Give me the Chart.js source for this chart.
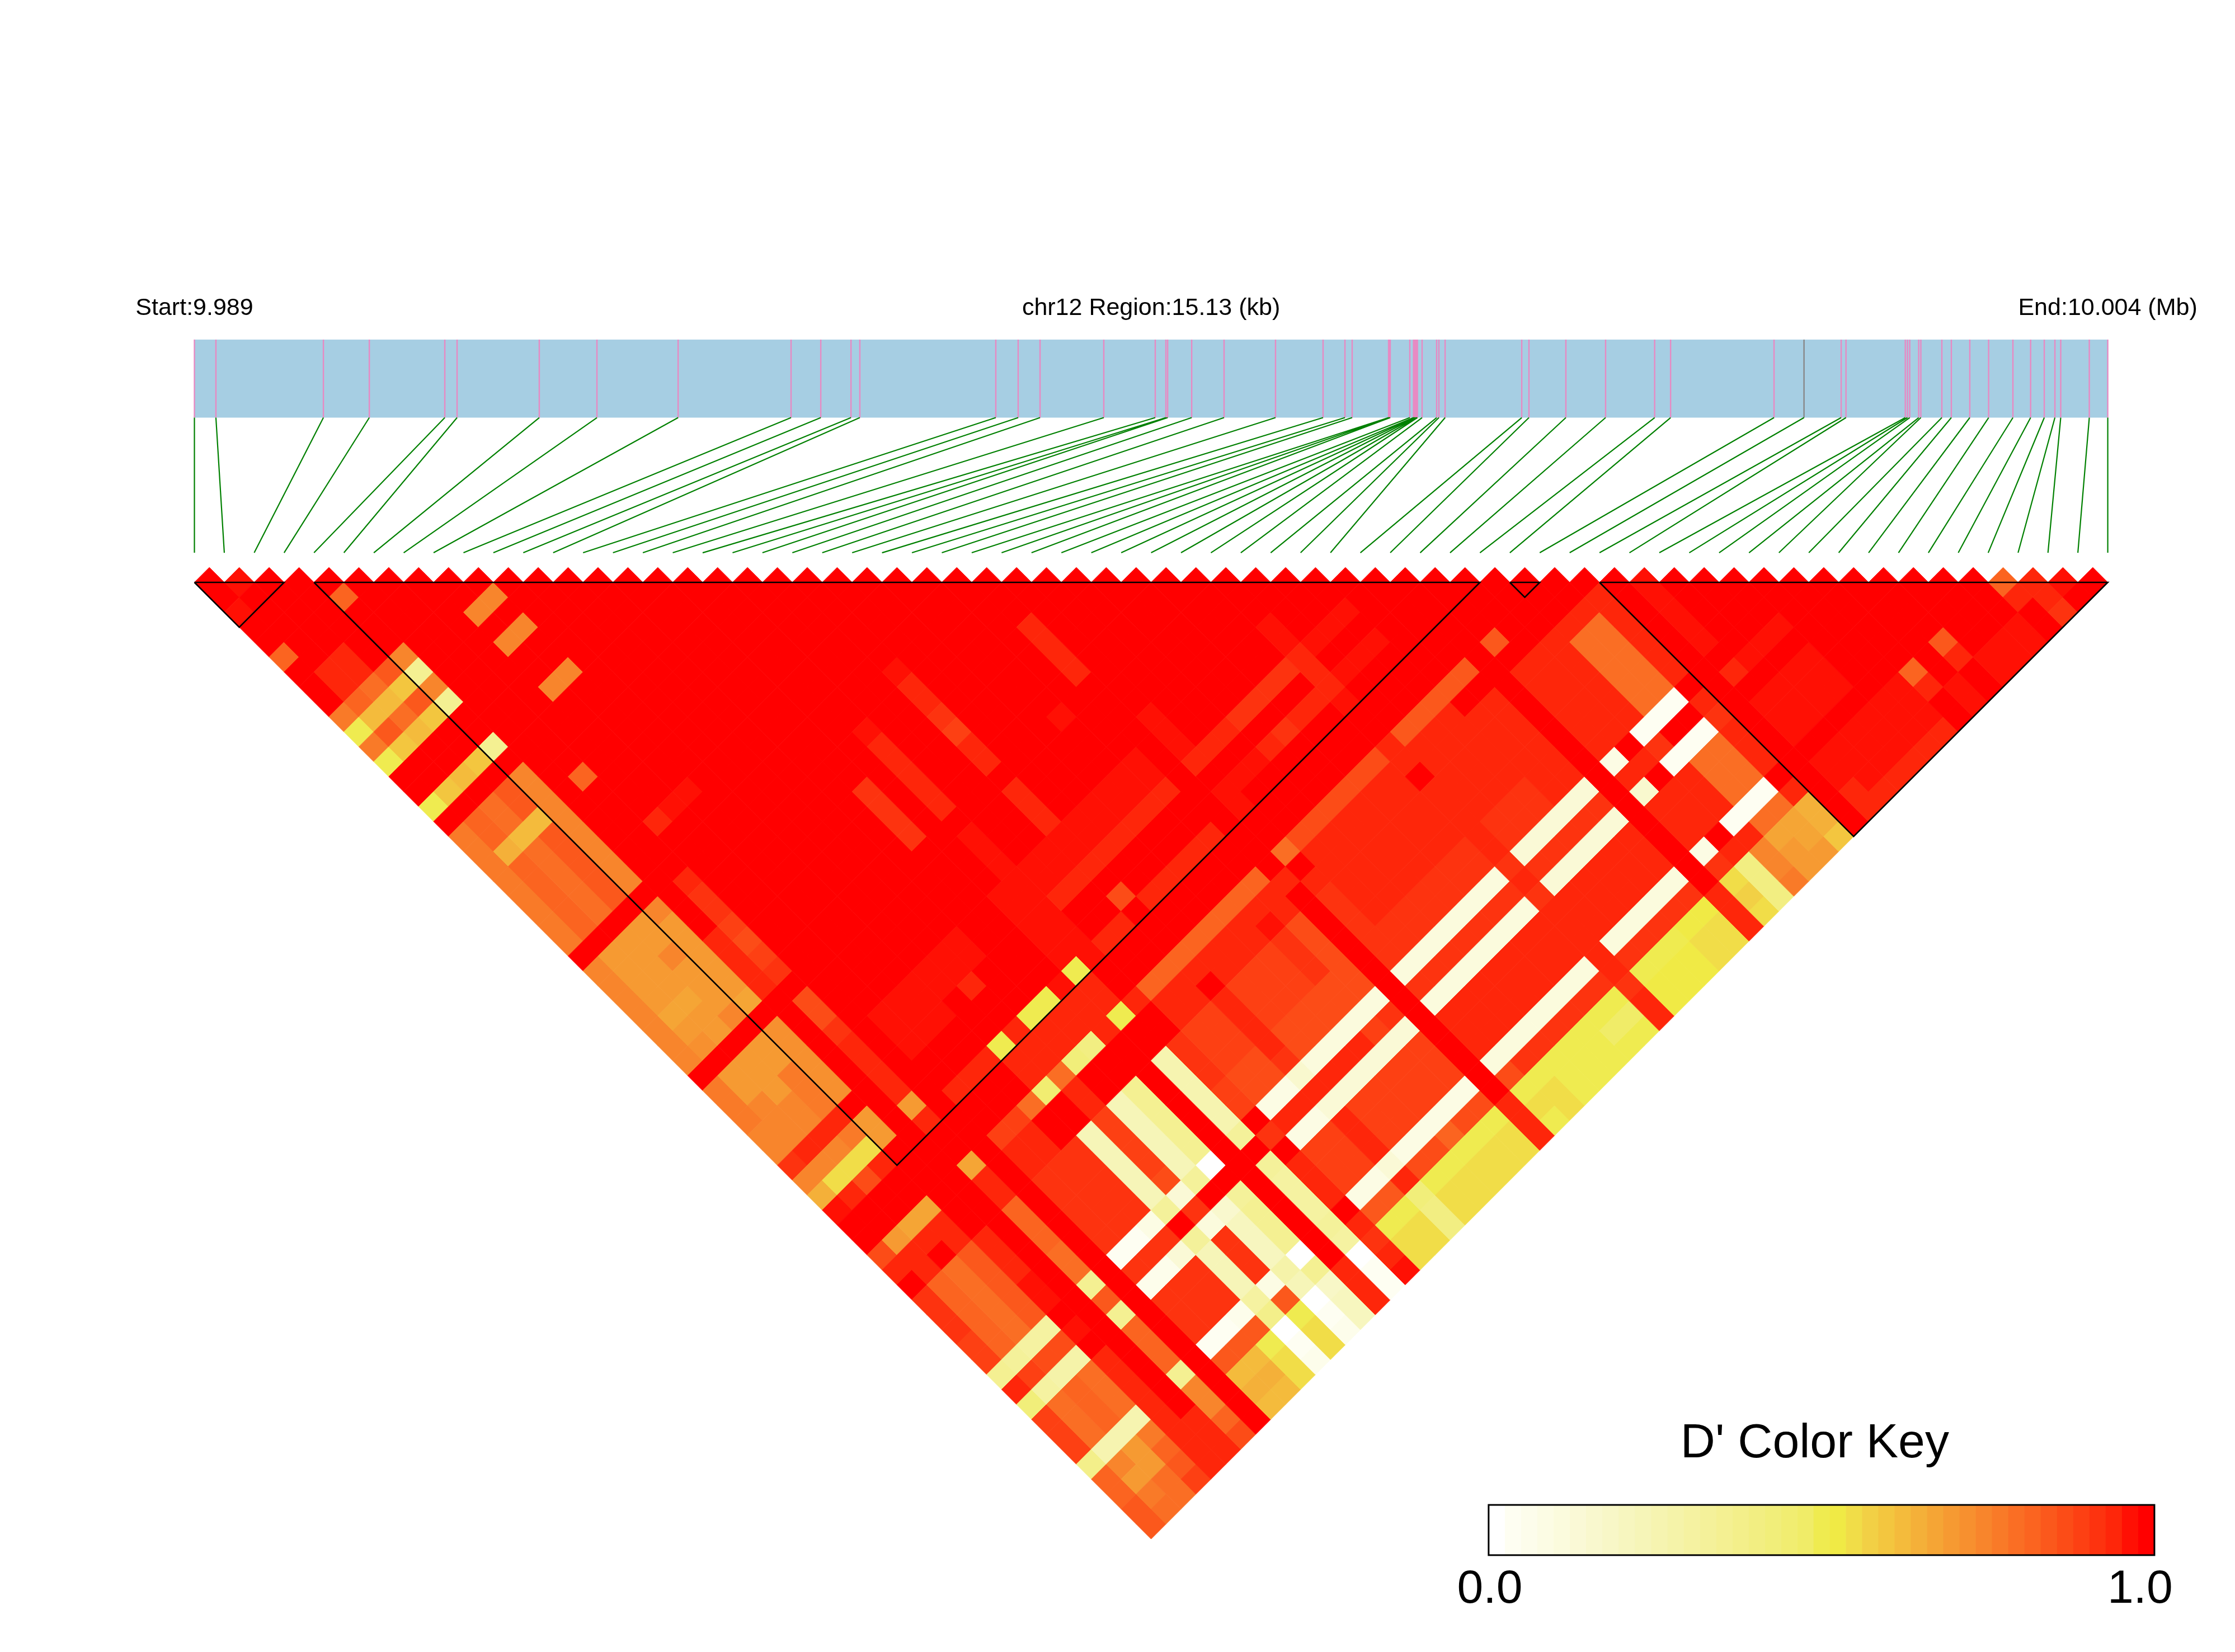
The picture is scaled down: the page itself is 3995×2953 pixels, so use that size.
<!DOCTYPE html>
<html>
<head>
<meta charset="utf-8">
<title>D' LD heatmap chr12</title>
<script src="https://cdn.jsdelivr.net/npm/chart.js@4"></script>
<style>
  html, body { margin: 0; padding: 0; background: #fff; }
  canvas { display: block; }
</style>
</head>
<body>
<canvas id="ldChart" width="3995" height="2953"></canvas>
<script>
// SNP positions in kb from the region start
const snpKb = [
  0, 0.17, 1.02, 1.383, 1.98, 2.077, 2.727, 3.183, 3.825, 4.718, 4.953, 5.192, 5.262,
  6.337, 6.514, 6.687, 7.191, 7.598, 7.682, 7.696, 7.886, 8.142, 8.549, 8.925, 9.098, 9.155,
  9.443, 9.45, 9.456, 9.611, 9.64, 9.647, 9.655, 9.664, 9.671, 9.708, 9.823, 9.841, 9.89,
  10.496, 10.553, 10.845, 11.159, 11.547, 11.673, 12.491, 12.728, 13.022, 13.06,
  13.529, 13.546, 13.564, 13.635, 13.652, 13.818, 13.893, 14.039, 14.188, 14.38,
  14.52, 14.628, 14.712, 14.758, 14.984, 15.13
];
const regionKb = 15.13;
const graySnp = 46;

// LD blocks, first and last SNP of each
const ldBlocks = [[0, 3], [4, 43], [44, 45], [47, 64]];

// colour key, 41 steps from D' 0.0 to 1.0
const keyColors = [
  '#FFFFFF', '#FEFEF2', '#FDFDEB', '#FCFCE4', '#FBFBDD', '#FAF9D6', '#F9F8CE', '#F8F7C7', '#F7F6BF', '#F6F5B8',
  '#F6F4B0', '#F5F3A9', '#F5F2A1', '#F4F19A', '#F4F092', '#F3EF8A', '#F2EE82', '#F1EE7A', '#F1ED71', '#F0EC68',
  '#EFEB50', '#F0EA45', '#F1DD48', '#F2D045', '#F3C63F', '#F4BB3C', '#F4B039', '#F5A535', '#F69A32', '#F7902F',
  '#F8852C', '#F97A28', '#FA6E24', '#FB6420', '#FB581C', '#FC4C17', '#FD4013', '#FD330F', '#FE260A', '#FF1004',
  '#FF0000'
];
const keyLabels = ['0.0', '1.0'];

// D' read off the triangle as blocks of cells: [iFrom, iTo, jFrom, jTo, key step]
// everything not listed is step 40 (full red), later blocks overwrite earlier ones
const dPrimeBlocks = [
  [1,1,2,2,39],[0,0,3,3,39],[4,4,6,6,33],[0,0,6,6,33],[8,9,11,11,30],[8,9,13,13,30],[8,9,16,16,30],[1,2,8,9,38],
  [4,4,10,10,30],[4,4,11,11,14],[4,4,12,12,30],[4,4,13,13,14],
  [3,3,10,10,34],[3,3,11,11,24],[3,3,12,12,34],[3,3,13,13,24],
  [2,2,10,10,32],[2,2,11,11,25],[2,2,12,12,32],[2,2,13,13,25],
  [1,1,10,10,33],[1,1,11,11,25],[1,1,12,12,34],[1,1,13,13,24],
  [0,0,10,10,31],[0,0,11,11,20],[0,0,12,12,31],[0,0,13,13,20],
  [4,4,16,16,14],[3,3,16,16,24],[2,2,16,16,25],[1,1,16,16,24],[0,0,16,16,20],
  [0,0,18,25,31],[1,1,18,19,33],[1,1,20,20,26],[1,1,21,25,33],[2,2,18,19,32],[2,2,20,20,25],[2,2,21,25,32],
  [3,3,18,19,34],[3,3,20,20,25],[3,3,21,25,34],[4,4,18,25,30],[6,6,20,20,33],[7,7,24,24,38],[8,9,24,24,39],
  // j 27-33
  [0,0,27,33,30],[1,4,27,33,28],[1,2,31,31,27],[1,1,33,33,29],[4,4,27,27,30],[3,3,29,29,30],[3,3,33,33,30],[4,4,33,33,27],
  // j 35-43
  [0,0,35,37,31],[0,0,38,39,30],[1,2,35,36,28],[1,2,37,39,30],[2,2,37,37,28],[3,3,35,36,28],[3,3,37,39,31],[4,4,35,39,29],
  [0,0,40,40,37],[1,3,40,40,38],[4,4,41,42,28],[3,3,41,41,31],[3,3,42,42,22],[2,2,41,41,30],[2,2,42,42,22],
  [1,1,41,41,30],[1,1,42,42,22],[0,0,41,41,30],[0,0,42,42,26],[0,0,43,43,39],[1,1,43,43,38],[2,2,43,43,35],[3,3,43,43,38],
  // SNP 5 and 6
  [6,6,27,27,38],[6,6,28,29,37],[6,6,30,30,36],[6,6,31,31,35],[6,6,32,32,36],[6,6,33,33,37],[5,5,30,33,38],
  [6,6,35,36,35],[6,6,37,37,37],[6,6,38,41,38],[6,6,42,42,28],[6,6,43,43,38],
  // inside the big block
  [26,26,30,33,38],[24,24,34,34,39],[20,20,27,27,39],[20,20,28,29,38],[20,20,30,30,37],[20,20,31,31,36],[20,20,32,33,38],
  [17,17,28,28,39],[17,17,29,33,38],[15,15,30,33,37],[20,20,35,37,38],[27,27,37,39,39],[17,17,35,37,39],
  [8,13,38,39,39],[16,25,38,39,39],[18,25,40,40,38],[16,17,40,40,39],[16,17,41,42,39],
  [18,19,43,43,38],[20,20,42,42,35],[21,25,43,43,38],[17,17,43,43,39],[16,16,43,43,20],
  [8,10,40,40,39],[12,12,40,40,38],[8,9,43,43,38],[10,10,43,43,38],[11,11,43,43,20],[12,12,43,43,38],[13,14,43,43,20],[15,15,43,43,39],
  [34,34,38,39,39],[35,37,40,40,39],[34,34,40,42,38],[34,34,43,43,39],[35,37,42,42,39],
  [27,29,40,40,38],[30,33,40,40,37],[30,33,42,42,38],[31,31,42,42,37],[27,29,42,42,39],[27,27,43,43,39],
  // j 44-48
  [41,41,46,46,34],[35,39,46,46,34],[34,34,46,47,38],[28,33,46,46,35],[28,33,47,47,38],[35,37,47,47,38],[35,39,48,48,38],
  [27,33,48,48,38],[27,27,46,46,32],[26,26,47,47,38],[18,25,46,46,33],[18,25,47,48,38],[20,20,48,48,40],[24,24,48,48,39],
  [16,16,46,46,20],[17,17,46,46,38],[15,15,46,46,38],[14,14,46,46,16],[13,13,46,46,17],[12,12,46,46,32],[11,11,46,46,18],
  [10,10,46,46,32],[8,9,46,46,36],[6,6,46,46,27],[3,3,46,46,27],[2,2,46,46,27],[1,1,46,46,28],[0,0,46,46,35],
  [11,16,44,45,38],[8,9,47,48,38],[12,12,47,48,38],[6,6,47,48,38],[0,1,47,47,38],[1,1,48,48,38],[2,3,47,47,38],[3,3,48,48,38],
  // i 21-25
  [21,23,49,51,36],[24,24,49,51,37],[25,25,49,51,35],[21,25,52,53,35],[21,25,54,54,4],[21,23,55,55,38],[24,24,55,55,36],[25,25,55,55,37],
  [21,25,56,56,5],[21,25,57,59,36],[21,25,60,60,3],[21,22,61,61,35],[23,23,61,61,33],[24,25,61,61,35],[21,25,62,62,20],[21,25,63,64,22],
  [26,26,62,64,38],
  // i 27-40
  [27,27,49,53,37],[28,33,49,51,38],[28,33,52,53,37],[34,39,49,53,38],[35,37,52,53,37],
  [27,33,54,54,4],[34,34,54,54,37],[35,39,54,54,5],[27,33,55,55,37],[34,34,55,55,38],[35,39,55,55,37],
  [27,33,56,56,4],[34,34,56,56,37],[35,39,56,56,5],[27,39,57,59,38],[27,33,60,60,4],[34,34,60,60,38],[35,39,60,60,4],
  [27,33,61,61,37],[27,27,61,61,35],[34,34,61,61,38],[35,39,61,61,37],
  [27,33,62,62,20],[34,34,62,62,37],[35,37,62,62,20],[38,39,62,62,21],
  [27,28,63,64,22],[27,27,64,64,20],[29,33,63,64,20],[32,33,63,63,19],[34,34,63,64,38],[35,37,63,64,21],[38,39,63,64,22],
  [40,40,62,64,38],
  // i 41-46
  [41,45,48,48,38],[41,43,49,53,38],[44,45,49,53,32],[46,46,48,53,38],
  [41,41,54,54,3],[43,45,54,54,1],[41,42,55,55,38],[43,43,55,55,37],[46,46,55,55,38],
  [41,41,56,56,6],[43,45,56,56,1],[46,46,56,56,37],[41,43,57,59,38],[44,45,57,59,32],[46,46,57,59,38],
  [41,41,60,60,3],[43,45,60,60,1],[41,41,61,61,37],[42,43,61,61,38],[44,45,61,61,32],[46,46,61,61,38],
  [41,41,62,62,22],[42,42,62,62,16],[43,43,62,62,30],[44,45,62,62,27],[46,46,62,63,26],
  [41,41,63,63,23],[42,42,63,64,16],[43,43,63,63,30],[44,44,63,64,28],[45,45,63,63,27],[45,45,64,64,28],[46,46,64,64,24],
  [41,41,64,64,22],[43,43,64,64,31],
  // last block
  [48,48,49,53,39],[48,48,55,55,38],[49,51,55,55,39],[48,51,57,59,39],[48,53,61,62,39],[49,53,63,63,39],[49,53,64,64,38],[48,48,63,64,38],
  [57,59,63,64,39],[56,56,61,61,34],[56,56,62,62,38],[54,54,61,61,33],[54,54,62,62,38],[55,55,63,64,39],
  [60,60,61,61,33],[61,61,62,62,38],[62,62,63,63,39],[60,60,62,62,38],[61,61,63,63,38],[61,61,64,64,37],
  // i 20 down to 16, j 49-64
  [20,20,49,52,38],[20,20,53,53,37],[20,20,54,54,6],[20,20,55,55,38],[20,20,56,56,5],[20,20,57,59,38],[20,20,60,60,5],[20,20,61,61,38],[20,20,62,62,17],[20,20,63,64,16],
  [18,19,49,51,36],[18,19,52,53,35],[18,19,54,54,3],[18,19,55,55,38],[18,19,56,56,3],[18,19,57,59,36],[18,19,60,60,3],[18,19,61,61,34],[18,19,62,62,20],[18,19,63,64,22],
  [17,17,49,51,37],[17,17,52,53,36],[17,17,55,55,37],[17,17,57,59,38],[17,17,61,61,38],[17,17,62,62,37],[17,17,63,63,38],[17,17,64,64,39],
  [16,16,49,53,10],[16,16,54,54,13],[16,16,56,56,13],[16,16,57,59,12],[16,16,60,60,13],[16,16,61,61,12],[16,16,62,62,0],[16,16,63,64,1],
  [15,15,62,64,38],
  // i 14 down to 8
  [14,14,49,53,14],[14,14,54,54,0],[14,14,56,56,13],[14,14,57,59,14],[14,14,60,60,0],[14,14,61,61,14],[14,14,62,62,7],[14,14,63,64,8],
  [13,13,49,53,9],[13,13,54,54,13],[13,13,56,56,6],[13,13,57,59,8],[13,13,60,60,11],[13,13,61,61,9],[13,13,62,62,0],[13,13,63,63,1],[13,13,64,64,2],
  [12,12,49,52,36],[12,12,53,53,35],[12,12,54,54,5],[12,12,55,55,37],[12,12,56,56,4],[12,12,57,59,37],[12,12,60,60,3],[12,12,61,61,34],[12,12,62,62,20],[12,12,63,64,22],
  [11,11,49,53,9],[11,11,54,54,13],[11,11,56,56,13],[11,11,57,59,9],[11,11,60,60,12],[11,11,61,61,15],[11,11,62,62,0],[11,11,63,63,1],[11,11,64,64,2],
  [10,10,49,53,37],[10,10,54,54,3],[10,10,55,55,37],[10,10,56,56,5],[10,10,57,59,37],[10,10,60,60,2],[10,10,61,61,34],[10,10,62,62,20],[10,10,63,64,22],
  [8,9,49,53,37],[8,9,54,54,1],[8,9,55,55,37],[8,9,56,56,2],[8,9,57,59,37],[8,9,60,60,1],[8,9,61,61,34],[8,9,62,62,25],[8,9,63,63,26],[8,9,64,64,25],
  // i 6 down to 0
  [6,6,49,51,33],[6,6,52,53,32],[6,6,54,54,14],[6,6,55,55,34],[6,6,56,56,14],[6,6,57,59,33],[6,6,60,60,14],[6,6,61,62,30],[6,6,63,63,33],[6,6,64,64,35],
  [5,5,62,64,38],
  [4,4,49,51,38],[4,4,52,53,39],[4,4,55,55,39],[4,4,57,64,38],
  [3,3,49,53,34],[3,3,54,54,12],[3,3,55,55,35],[3,3,56,56,11],[3,3,57,59,32],[3,3,60,60,10],[3,3,61,61,31],[3,3,62,62,33],[3,3,63,63,34],[3,3,64,64,36],
  [2,2,49,53,32],[2,2,54,54,12],[2,2,55,55,35],[2,2,56,56,11],[2,2,57,59,33],[2,2,60,60,10],[2,2,61,62,28],[2,2,63,64,32],
  [1,1,49,53,33],[1,1,54,54,13],[1,1,55,55,36],[1,1,56,56,12],[1,1,57,59,32],[1,1,60,60,10],[1,1,61,61,30],[1,1,62,62,28],[1,1,63,63,31],[1,1,64,64,32],
  [0,0,49,51,37],[0,0,52,53,36],[0,0,54,54,14],[0,0,55,55,38],[0,0,56,56,17],[0,0,57,59,36],[0,0,60,60,15],[0,0,61,62,33],[0,0,63,64,34]
];

// scale units: x is SNP index, y is half a cell per 0.5, one unit = 53.44 px on screen
const barTop = -8.12, barBottom = -5.51, connectorEnd = -0.99;
const keyLeft = 43.29, keyRight = 65.56, keyTop = 30.86, keyBottom = 32.54;
const nSnp = snpKb.length;

const steps = [];
for (let i = 0; i < nSnp; i++) {
  steps.push(new Array(nSnp).fill(40));
}
dPrimeBlocks.forEach(b => {
  for (let i = b[0]; i <= b[1]; i++) {
    for (let j = b[2]; j <= b[3]; j++) {
      steps[i][j] = b[4];
    }
  }
});

const cellPoints = [], cellColors = [];
for (let i = 0; i < nSnp - 1; i++) {
  for (let j = i + 1; j < nSnp; j++) {
    cellPoints.push({ x: (i + j) / 2, y: (j - i - 1) / 2 });
    cellColors.push(keyColors[steps[i][j]]);
  }
}

const kbToX = kb => kb / regionKb * (nSnp - 1);
const gap = { x: null, y: null };
const pinkTicks = [], grayTick = [], connectors = [], blockLines = [];
snpKb.forEach((kb, i) => {
  const x = kbToX(kb);
  (i === graySnp ? grayTick : pinkTicks).push({ x: x, y: barTop }, { x: x, y: barBottom }, gap);
  connectors.push({ x: x, y: barBottom }, { x: i, y: connectorEnd }, gap);
});
ldBlocks.forEach(b => {
  blockLines.push({ x: b[0], y: 0 }, { x: b[1], y: 0 }, { x: (b[0] + b[1]) / 2, y: (b[1] - b[0]) / 2 }, { x: b[0], y: 0 }, gap);
});

function lineSet(data, color, width, order) {
  return {
    data: data, showLine: true, spanGaps: false, borderColor: color, borderWidth: width,
    pointRadius: 0, fill: false, order: order, clip: false, borderCapStyle: 'butt', borderJoinStyle: 'miter'
  };
}

const textAndKey = {
  id: 'textAndKey',
  beforeDatasetsDraw(chart) {
    const { ctx, scales: { x, y } } = chart;
    ctx.save();
    // gene bar
    ctx.fillStyle = '#A6CEE3';
    ctx.fillRect(x.getPixelForValue(0), y.getPixelForValue(barTop),
      x.getPixelForValue(nSnp - 1) - x.getPixelForValue(0), y.getPixelForValue(barBottom) - y.getPixelForValue(barTop));
    ctx.restore();
  },
  afterDatasetsDraw(chart) {
    const { ctx, scales: { x, y } } = chart;
    ctx.save();
    ctx.fillStyle = '#000';
    ctx.textBaseline = 'alphabetic';
    ctx.textAlign = 'center';
    ctx.font = '43px "Liberation Sans"';
    ctx.fillText('Start:9.989', x.getPixelForValue(0), y.getPixelForValue(-8.945));
    ctx.fillText('chr12 Region:15.13 (kb)', x.getPixelForValue(32), y.getPixelForValue(-8.945));
    ctx.fillText('End:10.004 (Mb)', x.getPixelForValue(64), y.getPixelForValue(-8.945));

    // colour key
    const left = x.getPixelForValue(keyLeft), right = x.getPixelForValue(keyRight);
    const top = y.getPixelForValue(keyTop), bottom = y.getPixelForValue(keyBottom);
    const w = (right - left) / keyColors.length;
    keyColors.forEach((c, n) => {
      ctx.fillStyle = c;
      ctx.fillRect(left + n * w, top, w + 0.5, bottom - top);
    });
    ctx.strokeStyle = '#000';
    ctx.lineWidth = 3;
    ctx.strokeRect(left, top, right - left, bottom - top);

    ctx.fillStyle = '#000';
    ctx.font = '86px "Liberation Sans"';
    ctx.fillText("D' Color Key", x.getPixelForValue(54.2), y.getPixelForValue(29.27));
    ctx.font = '84px "Liberation Sans"';
    ctx.fillText(keyLabels[0], x.getPixelForValue(43.33), y.getPixelForValue(34.13));
    ctx.fillText(keyLabels[1], x.getPixelForValue(65.08), y.getPixelForValue(34.13));
    ctx.restore();
  }
};

new Chart(document.getElementById('ldChart').getContext('2d'), {
  type: 'scatter',
  data: {
    datasets: [
      lineSet(blockLines, '#000000', 2.6, 1),
      {
        data: cellPoints,
        pointStyle: 'rectRot',
        // half a diagonal of a cell, taken from the x scale
        pointRadius: c => c.chart.scales.x.getPixelForValue(0.5) - c.chart.scales.x.getPixelForValue(0),
        pointBackgroundColor: cellColors,
        // same colour outline closes the hairline seams between cells
        pointBorderColor: cellColors,
        pointBorderWidth: 1,
        showLine: false,
        clip: false,
        order: 2
      },
      lineSet(connectors, '#008000', 2.2, 3),
      lineSet(grayTick, '#888888', 2.4, 4),
      lineSet(pinkTicks, '#E78AC3', 2.4, 5)
    ]
  },
  options: {
    responsive: false,
    animation: false,
    devicePixelRatio: 1,
    layout: { padding: 0 },
    events: [],
    scales: {
      x: { type: 'linear', min: -6.503, max: 68.256, display: false },
      y: { type: 'linear', min: -19.48, max: 35.78, reverse: true, display: false }
    },
    plugins: { legend: { display: false }, tooltip: { enabled: false } }
  },
  plugins: [textAndKey]
});
</script>
</body>
</html>
